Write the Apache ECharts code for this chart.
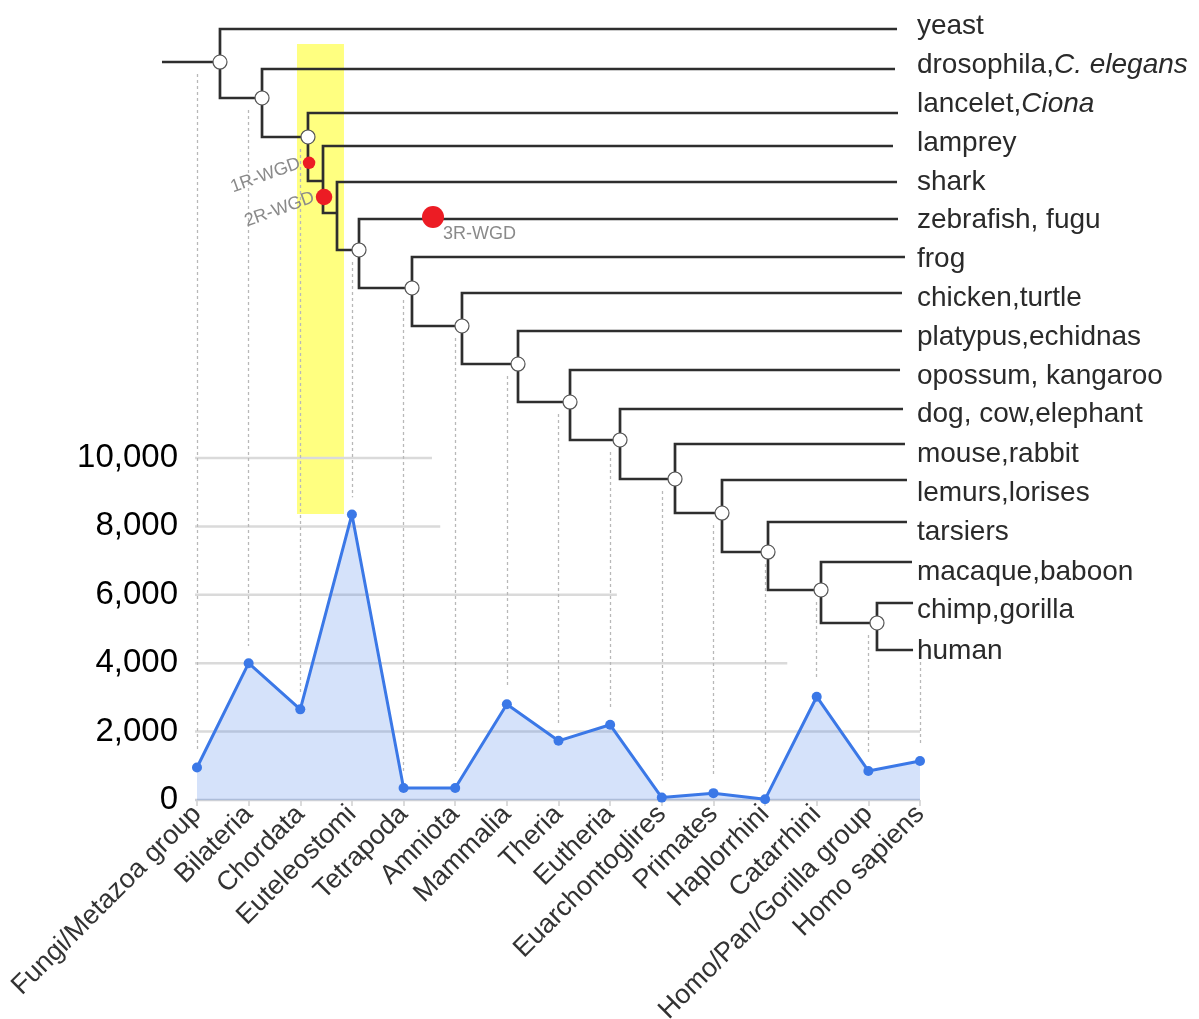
<!DOCTYPE html>
<html><head><meta charset="utf-8">
<script src="https://cdn.jsdelivr.net/npm/echarts@6/dist/echarts.min.js"></script>
<style>html,body{margin:0;padding:0;background:#fff}#c{width:1199px;height:1019px}</style>
</head><body><div id="c"></div>
<script>
// ---- area chart data ----
const categories = ["Fungi/Metazoa group","Bilateria","Chordata","Euteleostomi","Tetrapoda","Amniota","Mammalia","Theria","Eutheria","Euarchontoglires","Primates","Haplorrhini","Catarrhini","Homo/Pan/Gorilla group","Homo sapiens"];
const geneCounts = [950, 4000, 2650, 8350, 350, 350, 2800, 1730, 2200, 70, 200, 20, 3020, 850, 1140];
const yTicks = [0, 2000, 4000, 6000, 8000, 10000];

// ---- tree data (depth in category units, rows in leaf-index units) ----
const leaves = ["yeast","drosophila,{i|C. elegans}","lancelet,{i|Ciona}","lamprey","shark","zebrafish, fugu","frog","chicken,turtle","platypus,echidnas","opossum, kangaroo","dog, cow,elephant","mouse,rabbit","lemurs,lorises","tarsiers","macaque,baboon","chimp,gorilla","human"];
const leafRow  = [0, 1.034, 2.171, 3.024, 3.955, 4.911, 5.893, 6.824, 7.806, 8.814, 9.822, 10.726, 11.657, 12.742, 13.776, 14.836, 16.051];
const labelRow = [-0.078, 0.93, 1.938, 2.946, 3.955, 4.937, 5.945, 6.953, 7.961, 8.969, 9.951, 10.985, 11.993, 13.001, 14.035, 15.017, 16.077];
const leafTip  = [13.555, 13.516, 13.574, 13.477, 13.555, 13.574, 13.709, 13.651, 13.651, 13.613, 13.671, 13.709, 13.748, 13.748, 13.845, 13.865, 13.865];
const nodeDepth = [0.445, 1.259, 2.149, 2.440, 2.711, 3.137, 4.163, 5.131, 6.216, 7.223, 8.191, 9.256, 10.166, 11.057, 12.083, 13.167];
const nodeRow   = [0.853, 1.783, 2.791, 3.929, 4.756, 5.712, 6.694, 7.676, 8.659, 9.641, 10.623, 11.631, 12.510, 13.518, 14.500, 15.353];
const nodeCircle = [true, true, true, false, false, true, true, true, true, true, true, true, true, true, true, true];
const rootDepth = -0.678;
const catNode = [0, 1, 2, 5, 6, 7, 8, 9, 10, 11, 12, 13, 14, 15, -1]; // -1 = human leaf
const wgdNames = ["1R-WGD", "2R-WGD", "3R-WGD"];
const wgdDepth = [2.17, 2.46, 4.57];
const wgdRow   = [3.46, 4.342, 4.859];
const highlightDepth = [1.936, 2.846];
const highlightRow   = [0.388, 12.536];
const gridReach = [14, 14, 11.43, 8.13, 4.71, 4.55];

// ---- axes setup ----
const GENE_MAX = 23000;
const ROW_MIN = -0.4032, ROW_MAX = 19.928;
const geneToRow = v => ROW_MAX - (v / GENE_MAX) * (ROW_MAX - ROW_MIN);
const FONT = "'Liberation Sans', Arial, sans-serif";

// tree paths
const treePaths = [];
treePaths.push({coords: [[rootDepth, nodeRow[0]], [nodeDepth[0], nodeRow[0]]]});
for (let k = 0; k < nodeDepth.length; k++) {
  const last = k === nodeDepth.length - 1;
  const bottomRow = last ? leafRow[k + 1] : nodeRow[k + 1];
  const childX = last ? leafTip[k + 1] : nodeDepth[k + 1];
  treePaths.push({coords: [[leafTip[k], leafRow[k]], [nodeDepth[k], leafRow[k]], [nodeDepth[k], bottomRow], [childX, bottomRow]]});
}
// dashed connectors
const dashData = categories.map((c, i) => {
  const topRow = (catNode[i] >= 0 ? nodeRow[catNode[i]] : leafRow[leafRow.length - 1]) + 0.31;
  return {coords: [[i, topRow], [i, geneToRow(geneCounts[i] + 500)]]};
});
const circleData = nodeDepth.map((d, k) => nodeCircle[k] ? [d, nodeRow[k]] : null).filter(Boolean);

const series = [];
// gridlines
yTicks.forEach((t, j) => {
  series.push({type: 'line', xAxisIndex: 1, yAxisIndex: 0, clip: false, silent: true, symbol: 'none', z: 1,
    lineStyle: {color: j === 0 ? '#cdd0d6' : '#dadada', width: 2.5},
    data: [[-0.18, t], [gridReach[j], t]]});
});
// yellow highlight
series.push({type: 'line', xAxisIndex: 1, yAxisIndex: 1, data: [], z: 2, silent: true,
  markArea: {silent: true, itemStyle: {color: '#ffff80', opacity: 1},
    data: [[{coord: [highlightDepth[0], highlightRow[0]]}, {coord: [highlightDepth[1], highlightRow[1]]}]]}});
// dashed connectors
series.push({type: 'lines', coordinateSystem: 'cartesian2d', xAxisIndex: 1, yAxisIndex: 1, clip: false, silent: true, z: 3,
  lineStyle: {color: '#b8b8b8', width: 1.3, type: [3, 3], opacity: 1}, data: dashData});
// area chart
series.push({type: 'line', xAxisIndex: 0, yAxisIndex: 0, data: geneCounts, z: 4,
  symbol: 'circle', symbolSize: 10,
  lineStyle: {color: '#3b78e7', width: 3}, itemStyle: {color: '#3b78e7', opacity: 1},
  areaStyle: {color: 'rgba(59,120,231,0.3)'}});
// tree
series.push({type: 'lines', coordinateSystem: 'cartesian2d', xAxisIndex: 1, yAxisIndex: 1, polyline: true, clip: false, silent: true, z: 5,
  lineStyle: {color: '#2e2e2e', width: 2.7, opacity: 1}, data: treePaths});
// node circles
series.push({type: 'scatter', xAxisIndex: 1, yAxisIndex: 1, clip: false, silent: true, z: 6, symbolSize: 14,
  itemStyle: {color: '#fff', borderColor: '#555', borderWidth: 1.2, opacity: 1}, data: circleData});
// WGD events
const wgdLabel = [
  {show: true, position: 'left', distance: 3, rotate: 20, color: '#8a8a8a', fontSize: 18, fontFamily: FONT, formatter: wgdNames[0]},
  {show: true, position: 'left', distance: 2, rotate: 20, color: '#8a8a8a', fontSize: 18, fontFamily: FONT, formatter: wgdNames[1]},
  {show: true, position: [21, 28], align: 'left', verticalAlign: 'middle', color: '#8a8a8a', fontSize: 18, fontFamily: FONT, formatter: wgdNames[2]}
];
const wgdSize = [12.5, 16.5, 22];
series.push({type: 'scatter', xAxisIndex: 1, yAxisIndex: 1, clip: false, silent: true, z: 7,
  itemStyle: {color: '#ec1c24', opacity: 1},
  data: wgdNames.map((n, i) => ({value: [wgdDepth[i], wgdRow[i]], symbolSize: wgdSize[i], label: wgdLabel[i]}))});
// leaf labels
series.push({type: 'scatter', xAxisIndex: 1, yAxisIndex: 1, clip: false, silent: true, z: 8, symbolSize: 0.1,
  itemStyle: {color: 'rgba(0,0,0,0)', opacity: 1},
  label: {show: true, position: 'right', distance: 0, color: '#2a2a2a', fontSize: 28, fontFamily: FONT,
    formatter: p => leaves[p.dataIndex],
    rich: {i: {fontStyle: 'italic', color: '#2a2a2a', fontSize: 28, fontFamily: FONT}}},
  data: leaves.map((l, i) => [13.94, labelRow[i]])});

const chart = echarts.init(document.getElementById('c'));
chart.setOption({
  animation: false,
  backgroundColor: '#fff',
  textStyle: {fontFamily: FONT},
  grid: {left: 197, right: 279, top: 13.4, bottom: 219, containLabel: false, outerBoundsMode: 'none'},
  xAxis: [
    {type: 'category', data: categories, boundaryGap: false,
      axisLine: {show: false}, splitLine: {show: false},
      axisTick: {show: true, length: 6, lineStyle: {color: '#cfcfcf', width: 1.5}},
      axisLabel: {rotate: 45, interval: 0, fontSize: 27, color: '#333', margin: 10, fontFamily: FONT}},
    {type: 'value', min: 0, max: 14, show: false}
  ],
  yAxis: [
    {type: 'value', min: 0, max: GENE_MAX, interval: 2000,
      axisLine: {show: false}, axisTick: {show: false}, splitLine: {show: false},
      axisLabel: {fontSize: 33, color: '#000', margin: 19, fontFamily: FONT,
        formatter: v => yTicks.includes(v) ? v.toLocaleString('en-US') : ''}},
    {type: 'value', min: ROW_MIN, max: ROW_MAX, inverse: true, show: false}
  ],
  series: series
});
</script></body></html>
